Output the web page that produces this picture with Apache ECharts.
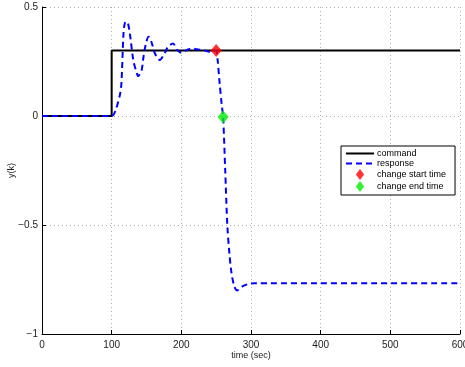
<!DOCTYPE html>
<html>
<head>
<meta charset="utf-8">
<script src="https://cdn.jsdelivr.net/npm/echarts@6/dist/echarts.min.js"></script>
<style>
  html, body { margin: 0; padding: 0; background: #fff; }
  #chart { width: 465px; height: 367px; }
</style>
</head>
<body>
<div id="chart"></div>
<script>
// Reference command: a step from 0 to 0.3 at t = 100 s
const commandTime = [0, 100, 100, 600];
const commandValue = [0, 0, 0.3, 0.3];

// Closed-loop response y(k)
const responseTime = [0, 100, 106, 112, 114, 117, 119, 122, 126, 131, 136, 138, 143, 145, 149, 153, 157, 162, 169, 176, 181, 188, 194, 200, 208, 215, 222, 234, 240, 245, 250, 252, 255, 258, 260, 263, 266, 269, 272, 276, 280, 287, 296, 305, 600];
const responseValue = [0, 0, 0.03, 0.10, 0.15, 0.38, 0.427, 0.433, 0.38, 0.257, 0.197, 0.183, 0.21, 0.257, 0.33, 0.364, 0.34, 0.288, 0.257, 0.288, 0.318, 0.333, 0.303, 0.29, 0.303, 0.31, 0.306, 0.30, 0.295, 0.298, 0.30, 0.26, 0.15, 0.05, -0.005, -0.25, -0.5, -0.63, -0.72, -0.78, -0.80, -0.783, -0.771, -0.767, -0.767];

// Event markers
const changeStart = [250, 0.3];
const changeEnd = [260, -0.005];

// Axis ticks
const xTicks = { min: 0, max: 600, step: 100 };
const yTicks = { min: -1, max: 0.5, step: 0.5 };

const zip = (xs, ys) => xs.map((x, i) => [x, ys[i]]);
const minusSign = v => String(v).replace('-', '\u2212');

const font = 'Liberation Sans, Arial, Helvetica, sans-serif';
const gridLine = { show: true, lineStyle: { color: '#b0b0b0', type: [1, 3], width: 1 } };
const diamondIcon = 'path://M0,-6L4.5,0L0,6L-4.5,0Z';

const chart = echarts.init(document.getElementById('chart'), null, { renderer: 'canvas' });
chart.setOption({
  animation: false,
  backgroundColor: '#fff',
  grid: { left: 42, right: 5, top: 7, bottom: 33, containLabel: false, outerBoundsMode: 'none' },
  legend: {
    left: 341, top: 146,
    orient: 'vertical',
    backgroundColor: '#fff',
    borderColor: '#000', borderWidth: 1, borderRadius: 0,
    padding: [3, 9, 3, 4],
    itemGap: 1,
    itemWidth: 28, itemHeight: 11,
    symbolKeepAspect: true,
    textStyle: { fontFamily: font, fontSize: 9, color: '#000', padding: [0, 0, 0, -2] },
    data: [
      { name: 'command', itemStyle: { opacity: 0 } },
      { name: 'response', itemStyle: { opacity: 0 } },
      { name: 'change start time', icon: diamondIcon, itemStyle: { color: '#ff0000' } },
      { name: 'change end time', icon: diamondIcon, itemStyle: { color: '#00ee00' } }
    ]
  },
  xAxis: {
    type: 'value',
    min: xTicks.min, max: xTicks.max, interval: xTicks.step,
    name: 'time (sec)', nameLocation: 'middle', nameGap: 17, nameMoveOverlap: false,
    nameTextStyle: { fontFamily: font, fontSize: 9, color: '#222' },
    axisLine: { show: true, onZero: false, lineStyle: { color: '#000', width: 1 } },
    axisTick: { show: true, inside: true, length: 4, lineStyle: { color: '#000' } },
    axisLabel: { fontFamily: font, fontSize: 10, color: '#222', margin: 6, formatter: minusSign },
    splitLine: gridLine
  },
  yAxis: {
    type: 'value',
    min: yTicks.min, max: yTicks.max, interval: yTicks.step,
    name: 'y(k)', nameLocation: 'middle', nameGap: 26, nameRotate: 90, nameMoveOverlap: false,
    nameTextStyle: { fontFamily: font, fontSize: 9, color: '#222' },
    axisLine: { show: true, onZero: false, lineStyle: { color: '#000', width: 1 } },
    axisTick: { show: true, inside: true, length: 4, lineStyle: { color: '#000' } },
    axisLabel: { fontFamily: font, fontSize: 10, color: '#222', margin: 4, formatter: minusSign },
    splitLine: gridLine
  },
  series: [
    {
      name: 'command', type: 'line',
      data: zip(commandTime, commandValue),
      showSymbol: false, symbol: 'none',
      lineStyle: { color: '#000', width: 2 },
      itemStyle: { color: '#000' },
      z: 2
    },
    {
      name: 'response', type: 'line',
      data: zip(responseTime, responseValue),
      showSymbol: false, symbol: 'none', smooth: 0.3,
      lineStyle: { color: '#0000ff', width: 2, type: [6, 4] },
      itemStyle: { color: '#0000ff' },
      z: 3
    },
    {
      name: 'change start time', type: 'scatter',
      data: [changeStart],
      symbol: 'diamond', symbolSize: [11, 13],
      itemStyle: { color: '#ff0000' },
      z: 4
    },
    {
      name: 'change end time', type: 'scatter',
      data: [changeEnd],
      symbol: 'diamond', symbolSize: [11, 13],
      itemStyle: { color: '#00ee00' },
      z: 4
    }
  ]
});
</script>
</body>
</html>
